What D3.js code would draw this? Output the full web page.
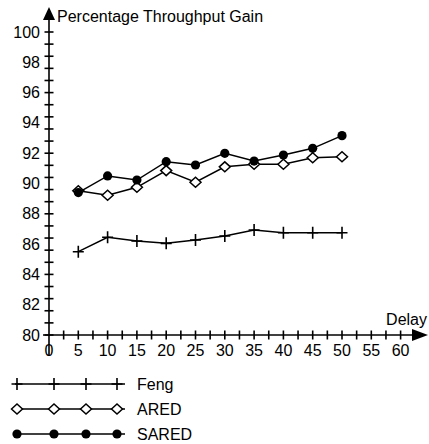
<!DOCTYPE html>
<html>
<head>
<meta charset="utf-8">
<script src="https://cdn.jsdelivr.net/npm/d3@7"></script>
<style>
  body { margin: 0; background: #fff; }
  text { font-family: "Liberation Sans", Arial, Helvetica, sans-serif; fill: #000; }
</style>
</head>
<body>
<div id="chart"></div>
<script>
var delays = [5, 10, 15, 20, 25, 30, 35, 40, 45, 50];
var feng   = [85.5, 86.45, 86.2, 86.05, 86.27, 86.53, 86.93, 86.75, 86.75, 86.75];
var ared   = [89.52, 89.22, 89.75, 90.85, 90.08, 91.1, 91.27, 91.27, 91.7, 91.77];
var sared  = [89.4, 90.5, 90.23, 91.44, 91.22, 91.99, 91.48, 91.88, 92.32, 93.16];
var xLabels = [0, 5, 10, 15, 20, 25, 30, 35, 40, 45, 50, 55, 60];
var yLabels = [80, 82, 84, 86, 88, 90, 92, 94, 96, 98, 100];
var seriesNames = ['Feng', 'ARED', 'SARED'];

var W = 429, H = 444;
var FS = 16;
var svg = d3.select('#chart').append('svg').attr('width', W).attr('height', H);

var x = d3.scaleLinear().domain([0, 60]).range([49, 400.6]);
var y = d3.scaleLinear().domain([80, 100]).range([335, 32]);

var x0 = x(0), y0 = y(80);
var ax = svg.append('g').attr('stroke', '#000').attr('stroke-width', 1.6);

// axis lines
ax.append('line').attr('x1', x0).attr('x2', x0).attr('y1', 356).attr('y2', 18);
ax.append('line').attr('x1', 43).attr('x2', 414).attr('y1', y0).attr('y2', y0);

// arrow heads
svg.append('path').attr('d', 'M' + x0 + ',7 L' + (x0 - 6) + ',20 L' + (x0 + 6) + ',20 Z').attr('fill', '#000');
svg.append('path').attr('d', 'M428,' + y0 + ' L412,' + (y0 - 6) + ' L412,' + (y0 + 6) + ' Z').attr('fill', '#000');

// ticks: y every 0.8, x every 2.5
var yTicks = d3.range(0, 26).map(function(i) { return 80 + i * 0.8; });
var xTicks = d3.range(1, 25).map(function(i) { return i * 2.5; });

ax.selectAll('.yt').data(yTicks).enter().append('line')
  .attr('x1', x0 - 4.5).attr('x2', x0 + 4.5)
  .attr('y1', function(d) { return y(d); }).attr('y2', function(d) { return y(d); });
ax.selectAll('.xt').data(xTicks).enter().append('line')
  .attr('y1', y0 - 4.5).attr('y2', y0 + 4.5)
  .attr('x1', function(d) { return x(d); }).attr('x2', function(d) { return x(d); });

// tick labels
svg.selectAll('.yl').data(yLabels).enter().append('text')
  .attr('x', 40).attr('y', function(d) { return y(d) + 5.5; })
  .attr('text-anchor', 'end').attr('font-size', FS)
  .text(function(d) { return d; });
svg.selectAll('.xl').data(xLabels).enter().append('text')
  .attr('x', function(d) { return x(d); }).attr('y', y0 + 21)
  .attr('text-anchor', 'middle').attr('font-size', FS)
  .text(function(d) { return d; });

// axis titles
svg.append('text').attr('x', 57).attr('y', 22).attr('font-size', FS).text('Percentage Throughput Gain');
svg.append('text').attr('x', 427).attr('y', 325).attr('text-anchor', 'end').attr('font-size', FS).text('Delay');

// markers
function drawMarker(g, kind, cx, cy) {
  if (kind === 'Feng') {
    g.append('path').attr('d', 'M' + (cx - 5.5) + ',' + cy + 'H' + (cx + 5.5) + 'M' + cx + ',' + (cy - 6) + 'V' + (cy + 6))
      .attr('stroke', '#000').attr('stroke-width', 1.6).attr('fill', 'none');
  } else if (kind === 'ARED') {
    g.append('path').attr('d', 'M' + (cx - 5.5) + ',' + cy + 'L' + cx + ',' + (cy - 5) + 'L' + (cx + 5.5) + ',' + cy + 'L' + cx + ',' + (cy + 5) + 'Z')
      .attr('stroke', '#000').attr('stroke-width', 1.5).attr('fill', '#fff');
  } else {
    g.append('circle').attr('cx', cx).attr('cy', cy).attr('r', 4.6).attr('fill', '#000');
  }
}

var allSeries = [feng, ared, sared];
var line = d3.line()
  .x(function(d, i) { return x(delays[i]); })
  .y(function(d) { return y(d); });

allSeries.forEach(function(vals, si) {
  var g = svg.append('g');
  g.append('path').attr('d', line(vals)).attr('fill', 'none').attr('stroke', '#000').attr('stroke-width', 1.5);
  vals.forEach(function(v, i) { drawMarker(g, seriesNames[si], x(delays[i]), y(v)); });
});

// legend
var legendY = d3.scaleLinear().domain([0, 2]).range([384, 434]);
var legendMarks = [17, 54, 86, 117];
seriesNames.forEach(function(name, si) {
  var ly = legendY(si);
  var g = svg.append('g');
  g.append('line').attr('x1', 15).attr('x2', 125).attr('y1', ly).attr('y2', ly)
    .attr('stroke', '#000').attr('stroke-width', 1.5);
  legendMarks.forEach(function(mx) { drawMarker(g, name, mx, ly); });
  g.append('text').attr('x', 137).attr('y', ly + 5.5).attr('font-size', FS).text(name);
});
</script>
</body>
</html>
